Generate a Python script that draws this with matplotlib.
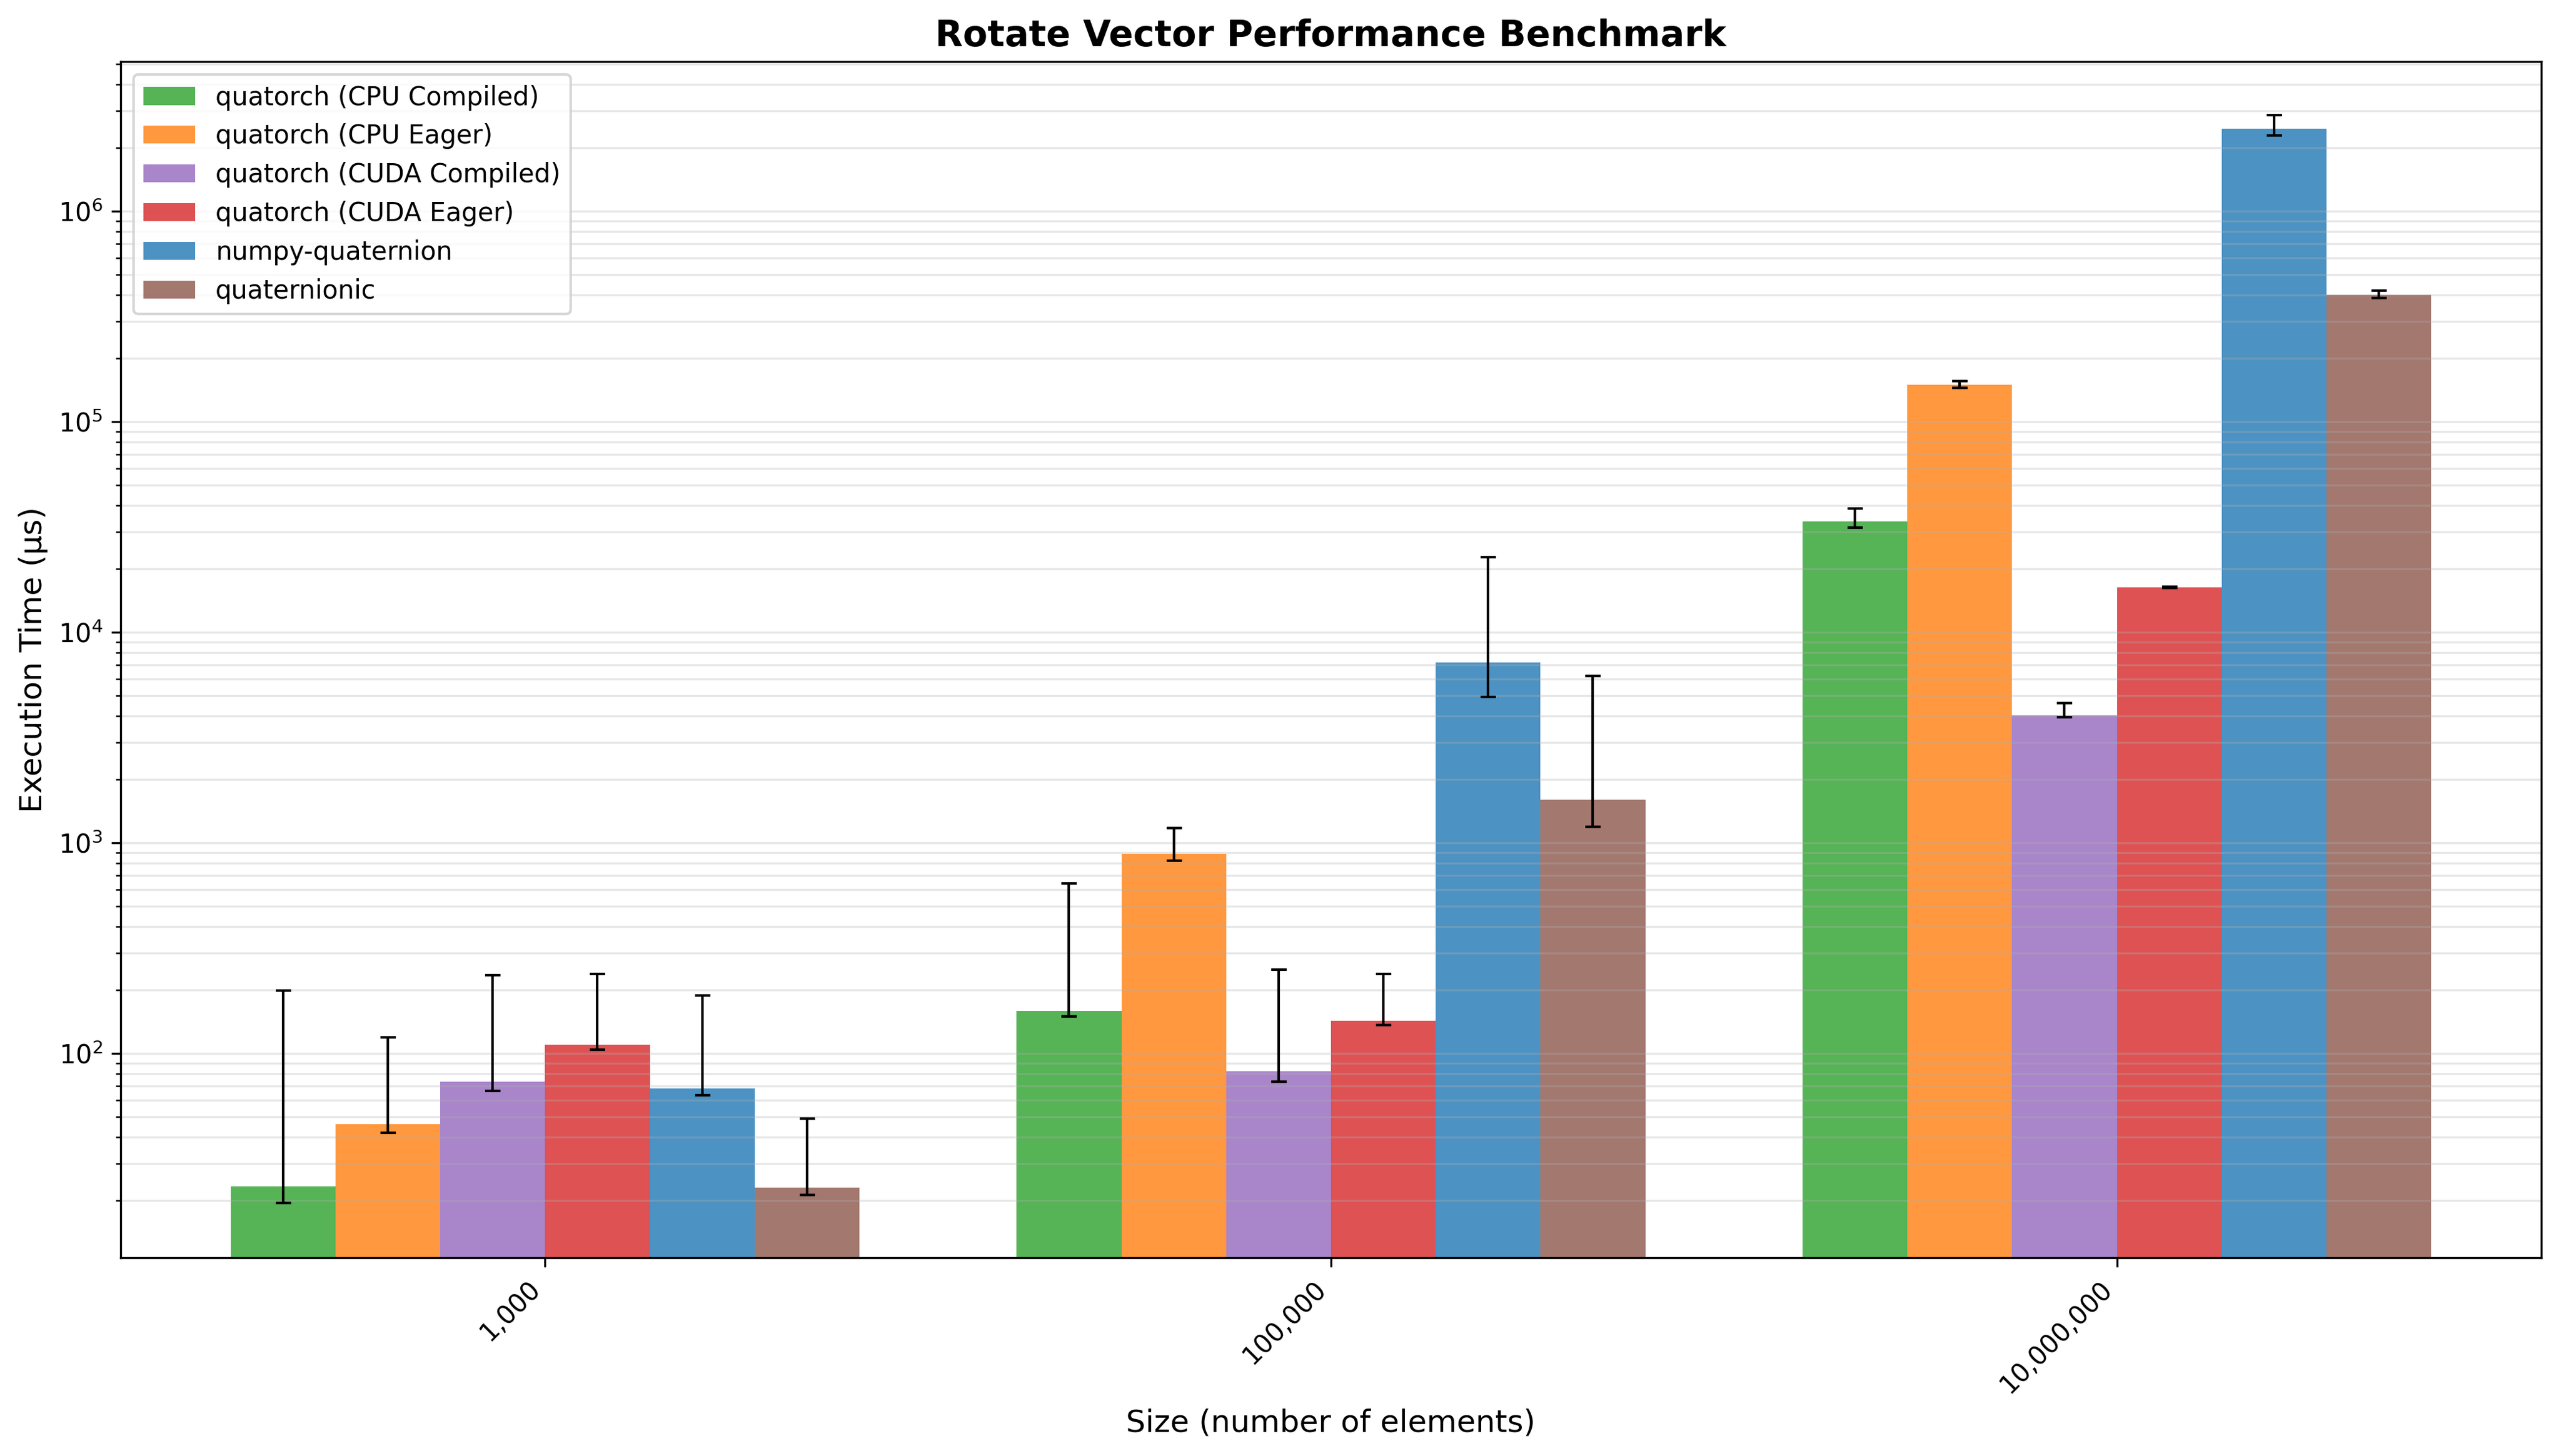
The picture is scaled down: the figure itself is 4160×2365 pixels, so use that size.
import numpy as np
import matplotlib
matplotlib.use("Agg")
import matplotlib.pyplot as plt

# Datos del benchmark (tiempos en microsegundos)
sizes = [1000, 100000, 10000000]
implementaciones = [
    "quatorch (CPU Compiled)",
    "quatorch (CPU Eager)",
    "quatorch (CUDA Compiled)",
    "quatorch (CUDA Eager)",
    "numpy-quaternion",
    "quaternionic",
]
colores = ["tab:green", "tab:orange", "tab:purple", "tab:red", "tab:blue", "tab:brown"]

# valor central de cada barra
cpu_compiled = [23.3, 159, 33600]
cpu_eager = [46.1, 888, 149700]
cuda_compiled = [73.3, 82.2, 4030]
cuda_eager = [110, 143, 16300]
numpy_quat = [68.1, 7190, 2.47e6]
quaternionic = [23.0, 1596, 401000]

# extremos inferior / superior de las barras de error
cpu_compiled_lo = [19.5, 150, 31300]
cpu_compiled_hi = [199, 641, 38800]
cpu_eager_lo = [42.0, 824, 145000]
cpu_eager_hi = [119, 1178, 156000]
cuda_compiled_lo = [66.1, 73.3, 3950]
cuda_compiled_hi = [235, 250, 4600]
cuda_eager_lo = [104, 136, 16200]
cuda_eager_hi = [239, 239, 16400]
numpy_quat_lo = [63.4, 4930, 2.28e6]
numpy_quat_hi = [188, 22700, 2.86e6]
quaternionic_lo = [21.2, 1188, 388000]
quaternionic_hi = [49.0, 6190, 418000]

valores = [cpu_compiled, cpu_eager, cuda_compiled, cuda_eager, numpy_quat, quaternionic]
bajos = [cpu_compiled_lo, cpu_eager_lo, cuda_compiled_lo, cuda_eager_lo, numpy_quat_lo, quaternionic_lo]
altos = [cpu_compiled_hi, cpu_eager_hi, cuda_compiled_hi, cuda_eager_hi, numpy_quat_hi, quaternionic_hi]

fig = plt.figure(figsize=(4160 / 300, 2365 / 300), dpi=300)
ax = fig.add_subplot(111)
fig.subplots_adjust(left=0.0471, right=0.9923, top=0.9577, bottom=0.1362)

x = np.arange(len(sizes))
ancho = 0.8 / len(implementaciones)

# Barras agrupadas con barras de error asimétricas
for i, nombre in enumerate(implementaciones):
    v = np.array(valores[i])
    err = [v - np.array(bajos[i]), np.array(altos[i]) - v]
    ax.bar(x + (i - 2.5) * ancho, v, ancho, label=nombre,
           color=colores[i], alpha=0.8, yerr=err, capsize=3,
           error_kw=dict(elinewidth=1, capthick=1, ecolor="black"))

ax.set_yscale("log")
ax.set_ylim(10.7, 5.13e6)
ax.set_xticks(x)
ax.set_xticklabels([f"{s:,}" for s in sizes], rotation=45, ha="right")
ax.set_xlabel("Size (number of elements)", fontsize=12)
ax.set_ylabel("Execution Time (μs)", fontsize=12)
ax.set_title("Rotate Vector Performance Benchmark", fontsize=14, fontweight="bold")
ax.grid(True, which="both", axis="y", alpha=0.3)
ax.legend(loc="upper left")

fig.savefig("out.png", dpi=300)
